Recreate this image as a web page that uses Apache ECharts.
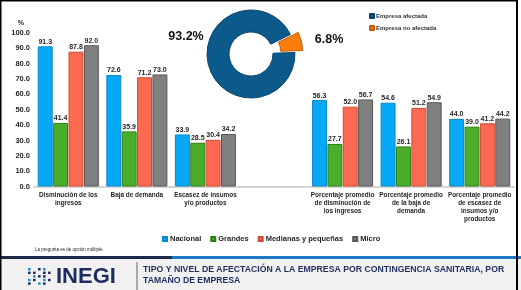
<!DOCTYPE html>
<html>
<head>
<meta charset="utf-8">
<title>Afectación a la empresa</title>
<script src="https://cdn.jsdelivr.net/npm/echarts@6/dist/echarts.min.js"></script>
<style>
  html, body { margin: 0; padding: 0; background: #fff; }
  #chart { width: 521px; height: 290px; }
</style>
</head>
<body>
<div id="chart"></div>
<script>
// categorias (la cuarta queda vacia para separar los dos bloques)
var categorias = [
  'Disminución de los\ningresos',
  'Baja de demanda',
  'Escasez de insumos\ny/o productos',
  '',
  'Porcentaje promedio\nde disminución de\nlos ingresos',
  'Porcentaje promedio\nde la baja de\ndemanda',
  'Porcentaje promedio\nde escasez de\ninsumos y/o\nproductos'
];
var nacional = [91.3, 72.6, 33.9, null, 56.3, 54.6, 44.0];
var grandes  = [41.4, 35.9, 28.5, null, 27.7, 26.1, 39.0];
var medianas = [87.8, 71.2, 30.4, null, 52.0, 51.2, 41.2];
var micro    = [92.0, 73.0, 34.2, null, 56.7, 54.9, 44.2];

var pieNombres = ['Empresa afectada', 'Empresa no afectada'];
var pieValores = [93.2, 6.8];

var yTicks = [0, 10, 20, 30, 40, 50, 60, 70, 80, 90, 100];

var txt = '#262626';
var fuente = '"Liberation Sans", Arial, sans-serif';

function serie(nombre, datos, color, borde) {
  return {
    name: nombre,
    type: 'bar',
    data: datos,
    barGap: '3%',
    barCategoryGap: '11%',
    itemStyle: { color: color, borderColor: borde, borderWidth: 1 },
    label: {
      show: true,
      position: 'top',
      distance: 1,
      fontSize: 7,
      fontWeight: 'bold',
      color: txt,
      fontFamily: fuente,
      formatter: function (p) { return p.value == null ? '' : p.value.toFixed(1); }
    }
  };
}

// logo INEGI: cuadritos del icono
var logo = [];
var patron = [
  '1 0 1 1 0',
  '1 1 0 1 1',
  '0 1 1 1 0',
  '1 1 0 1 1',
  '1 0 1 1 0'
];
patron.forEach(function (fila, r) {
  fila.split(' ').forEach(function (v, c) {
    if (v === '1') {
      logo.push({
        type: 'rect',
        shape: { x: 28 + c * 5, y: 268 + r * 3.6, width: 2.6, height: 2.4 },
        style: { fill: (c + r) % 3 === 0 ? '#2a8bd0' : '#1b2d5e' }
      });
    }
  });
});

// porcentajes de la dona, a los lados
var posPct = [[186, 37], [329, 40]];
var pctTextos = pieValores.map(function (v, i) {
  return {
    type: 'text', x: posPct[i][0], y: posPct[i][1],
    style: { text: v.toFixed(1) + '%', fontSize: 12.5, fontWeight: 'bold', fill: '#111', fontFamily: fuente, align: 'center', verticalAlign: 'middle' }
  };
});

var chart = echarts.init(document.getElementById('chart'));
chart.setOption({
  animation: false,
  textStyle: { fontFamily: fuente },
  legend: [{
    data: ['Nacional', 'Grandes', 'Medianas y pequeñas', 'Micro'],
    left: 157,
    top: 230,
    icon: 'rect',
    itemWidth: 4,
    itemHeight: 4,
    itemGap: 9,
    textStyle: { fontSize: 7.5, fontWeight: 'bold', color: txt, padding: [0, 0, 0, -2] }
  }, {
    data: pieNombres,
    orient: 'vertical',
    left: 364,
    top: 8,
    icon: 'rect',
    itemWidth: 4,
    itemHeight: 4,
    itemGap: 6,
    textStyle: { fontSize: 6, fontWeight: 'bold', color: '#333', padding: [0, 0, 0, -3] }
  }],
  grid: { left: 34, right: 7, top: 33, bottom: 103.5 },
  xAxis: {
    type: 'category',
    data: categorias,
    axisLine: { lineStyle: { color: '#d4d4d4', width: 2 } },
    axisTick: { show: false },
    axisLabel: {
      interval: 0,
      margin: 5,
      fontSize: 6.4,
      lineHeight: 7.8,
      fontWeight: 'bold',
      color: txt
    }
  },
  yAxis: {
    type: 'value',
    min: yTicks[0],
    max: yTicks[yTicks.length - 1],
    interval: 10,
    name: '%',
    nameGap: 6,
    nameTextStyle: { fontSize: 7, fontWeight: 'bold', color: txt, align: 'right', padding: [0, 10, 0, 0] },
    axisLine: { show: false },
    axisTick: { show: false },
    splitLine: { show: false },
    axisLabel: {
      margin: 4,
      fontSize: 7.5,
      fontWeight: 'bold',
      color: txt,
      formatter: function (v) { return v.toFixed(1); }
    }
  },
  series: [
    serie('Nacional', nacional, '#07a9f6', '#0788c8'),
    serie('Grandes', grandes, '#4aae2b', '#2f7f18'),
    serie('Medianas y pequeñas', medianas, '#fc6a52', '#d24a35'),
    serie('Micro', micro, '#808080', '#555555'),
    {
      type: 'pie',
      center: [251, 54],
      radius: [22, 44],
      startAngle: 2,
      selectedMode: 'single',
      selectedOffset: 8,
      silent: true,
      data: [
        { name: pieNombres[0], value: pieValores[0], itemStyle: { color: '#0c5a8b', borderColor: '#08466e', borderWidth: 1 } },
        { name: pieNombres[1], value: pieValores[1], selected: true, itemStyle: { color: '#fb7d0b', borderColor: '#c45e00', borderWidth: 1 } }
      ],
      label: { show: false },
      labelLine: { show: false }
    }
  ],
  graphic: pctTextos.concat([
    { type: 'text', left: 35, top: 247, style: { text: 'La pregunta es de opción múltiple.', fontSize: 4.5, fill: '#222', fontFamily: fuente } },
    { type: 'rect', shape: { x: 0, y: 259, width: 521, height: 31 }, style: { fill: '#f1f1f1' } },
    { type: 'rect', shape: { x: 0, y: 256, width: 172, height: 3 }, style: { fill: '#1b2a48' } },
    { type: 'rect', shape: { x: 172, y: 256, width: 349, height: 3 }, style: { fill: '#1f78c8' } },
    { type: 'rect', shape: { x: 136.5, y: 262, width: 1, height: 28 }, style: { fill: '#666' } },
    { type: 'text', x: 56, y: 276.5, style: { text: 'INEGI', fontSize: 22, fontWeight: 'bold', fill: '#1b2d5e', fontFamily: '"Liberation Sans Narrow", "Liberation Sans", sans-serif', verticalAlign: 'middle' } },
    { type: 'group', children: logo },
    { type: 'text', x: 143, y: 270, style: { text: 'TIPO Y NIVEL DE AFECTACIÓN A LA EMPRESA POR CONTINGENCIA SANITARIA, POR', fontSize: 8.7, fontWeight: 'bold', fill: '#1f2d5c', fontFamily: fuente, verticalAlign: 'middle' } },
    { type: 'text', x: 143, y: 281, style: { text: 'TAMAÑO DE EMPRESA', fontSize: 8.7, fontWeight: 'bold', fill: '#1f2d5c', fontFamily: fuente, verticalAlign: 'middle' } },
    { type: 'rect', z: 100, shape: { x: 0.5, y: 0.5, width: 516.5, height: 295 }, style: { fill: null, stroke: '#000', lineWidth: 2 } }
  ])
});
</script>
</body>
</html>
